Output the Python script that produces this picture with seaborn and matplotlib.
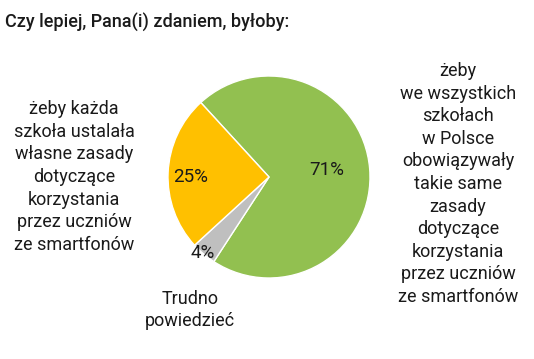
import matplotlib
matplotlib.use("Agg")
import matplotlib.pyplot as plt
import seaborn as sns

# data
categories = [
    "żeby\nwe wszystkich\nszkołach\nw Polsce\nobowiązywały\ntakie same\nzasady\ndotyczące\nkorzystania\nprzez uczniów\nze smartfonów",
    "Trudno\npowiedzieć",
    "żeby każda\nszkoła ustalała\nwłasne zasady\ndotyczące\nkorzystania\nprzez uczniów\nze smartfonów",
]
values = [71, 4, 25]
colors = ["#92c050", "#bfbfbf", "#ffc000"]
title = "Czy lepiej, Pana(i) zdaniem, byłoby:"

sns.set_theme(style="white")
plt.rcParams["font.family"] = ["Roboto", "DejaVu Sans"]

fig = plt.figure(figsize=(5.34, 3.59), dpi=100)
W, H = 534, 359
cx, cy, r = 269, 177, 101
ax = fig.add_axes([(cx - r) / W, (H - cy - r) / H, 2 * r / W, 2 * r / H])

wedges, _, autotexts = ax.pie(
    values, colors=colors, startangle=132.5, counterclock=False,
    autopct=lambda p: f"{p:.0f}%", pctdistance=0.6,
    wedgeprops=dict(edgecolor="white", linewidth=1),
    textprops=dict(fontsize=13.5, color="#1a1a1a"),
)
# nudge percentage labels to match the original placement
pct_pos = [(0.57, 0.07), (-0.66, -0.75), (-0.78, -0.0)]
for t, (x, y) in zip(autotexts, pct_pos):
    t.set_position((x, y))
ax.set_xlim(-1, 1)
ax.set_ylim(-1, 1)

fig.text(5 / W, 1 - 22 / H, title, fontsize=13, fontweight="medium",
         color="#1a1a1a", ha="left", va="center")

label_pos = [(458, 184), (190, 310), (74, 177)]
for lab, (x, y) in zip(categories, label_pos):
    fig.text(x / W, 1 - y / H, lab, fontsize=13, color="#1a1a1a",
             ha="center", va="center", linespacing=1.33)

fig.savefig("out.png", dpi=100)
